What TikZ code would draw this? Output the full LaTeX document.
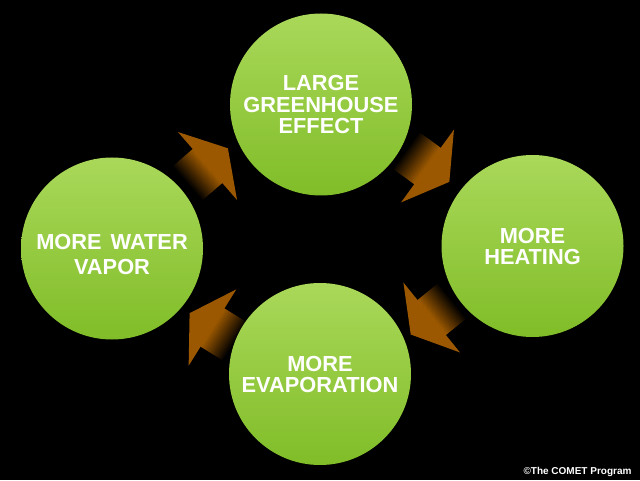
\documentclass[tikz,border=0pt]{standalone}
\usepackage{fontspec}
\setmainfont{Liberation Sans}
\definecolor{greentop}{RGB}{170,216,90}
\definecolor{greenbot}{RGB}{128,189,40}
\definecolor{arrowbrown}{RGB}{155,88,0}

% block arrow: base middle of the head at (#1,#2), pointing at angle #3
\newcommand{\fatarrow}[3]{%
\begin{scope}[shift={(#1,#2)}, rotate=#3]
\foreach \i [evaluate=\i as \p using \i*5] in {1,...,20}
  \fill[arrowbrown!\p!black] ({-26+(\i-1)*1.3},-22.5) rectangle ({-26+\i*1.3+0.4},22.5);
\fill[arrowbrown] (0,-45) -- (27,0) -- (0,45) -- cycle;
\end{scope}}

\begin{document}
\begin{tikzpicture}[x=1pt, y=1pt]
\tikzstyle{bubble}=[circle, minimum size=182pt, inner sep=0pt,
  top color=greentop, bottom color=greenbot, text=white, align=center,
  font=\fontsize{21.8}{21}\selectfont\bfseries]
\fill[black] (0,0) rectangle (640,480);

\fatarrow{207.5}{314}{41}
\fatarrow{427.5}{314}{-36}
\fatarrow{431.7}{162.5}{219}
\fatarrow{212.5}{152.5}{148}

\node(gh)[bubble]   at (321,   375.5) {LARGE\\[0.5pt]GREENHOUSE\\[0.5pt]EFFECT};
\node(heat)[bubble] at (532.5, 234)   {MORE\\HEATING};
\node(evap)[bubble] at (320,   106)   {MORE\\EVAPORATION};
\node(vap)[bubble]  at (112,   231.5) {\rule{0pt}{28pt}MORE\hspace{9pt}WATER\\[4pt]VAPOR};

\node(copy)[anchor=base east, text=white, font=\fontsize{10}{12}\selectfont\bfseries]
  at (635,6) {©The COMET Program};

\end{tikzpicture}
\end{document}
